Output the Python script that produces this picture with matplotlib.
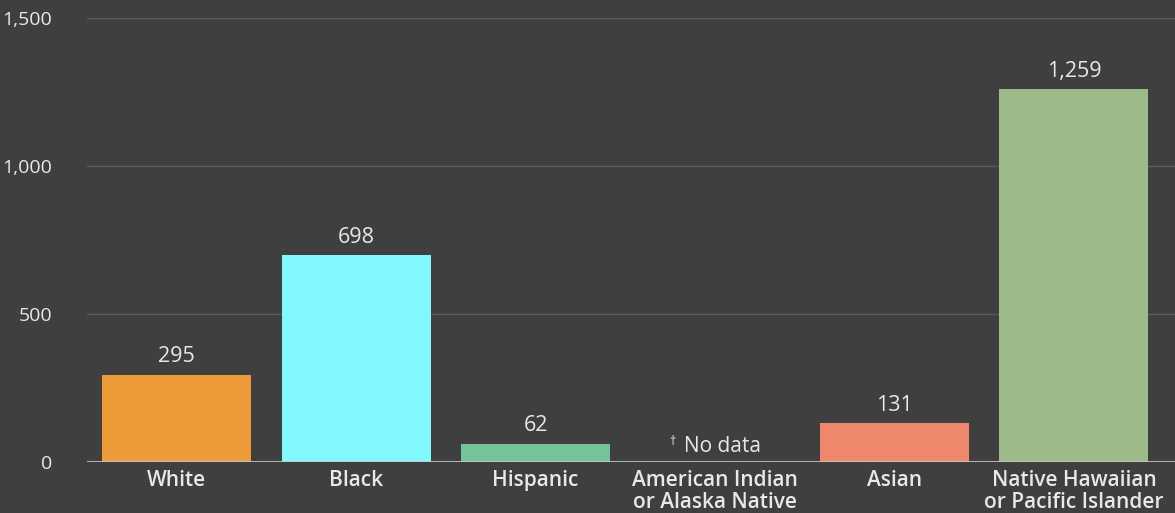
import matplotlib.pyplot as plt
from matplotlib.ticker import FuncFormatter

# Données
groupes = ['White', 'Black', 'Hispanic', 'American Indian\nor Alaska Native', 'Asian',
           'Native Hawaiian\nor Pacific Islander']
valeurs = [295, 698, 62, 0, 131, 1259]
couleurs = ['#ED9B38', '#80F8FD', '#73C39B', '#3f3f3f', '#EE876B', '#9DBB89']
sans_donnees = [False, False, False, True, False, False]

fond = '#3f3f3f'
texte = '#e8e8e8'
plt.rcParams['font.family'] = ['Open Sans', 'DejaVu Sans']

fig = plt.figure(figsize=(11.75, 5.13), dpi=100, facecolor=fond)
ax = fig.add_axes([0.074, 0.0994, 0.926, 0.8655], facecolor=fond)

x = list(range(len(groupes)))
hauteurs = [0 if nd else v for v, nd in zip(valeurs, sans_donnees)]
ax.bar(x, hauteurs, width=0.83, color=couleurs, zorder=2)

for i, (v, nd) in enumerate(zip(valeurs, sans_donnees)):
    if nd:
        ax.text(i - 0.235, 48, '\u2020', ha='center', va='bottom', color=texte, fontsize=9)
        ax.text(i + 0.04, 18, 'No data', ha='center', va='bottom', color=texte, fontsize=15)
    else:
        ax.text(i, v + 25, f'{v:,}', ha='center', va='bottom', color=texte, fontsize=15.5)

ax.set_xlim(-0.5, 5.563)
ax.set_ylim(0, 1500)
ax.set_yticks([0, 500, 1000, 1500])
ax.yaxis.set_major_formatter(FuncFormatter(lambda v, p: f'{int(v):,}'))
ax.set_xticks(x)
ax.set_xticklabels(groupes, fontsize=15, color=texte, linespacing=1.05, fontweight='semibold')
ax.tick_params(axis='x', length=0, pad=6)
ax.tick_params(axis='y', length=0, pad=25, labelsize=14, labelcolor=texte)

ax.grid(axis='y', color='#5c5c5c', linewidth=1, zorder=0)
ax.axhline(0, color='#c8c8c8', linewidth=1.2, zorder=3)
for s in ax.spines.values():
    s.set_visible(False)

fig.savefig('out.png', dpi=100, facecolor=fond)
